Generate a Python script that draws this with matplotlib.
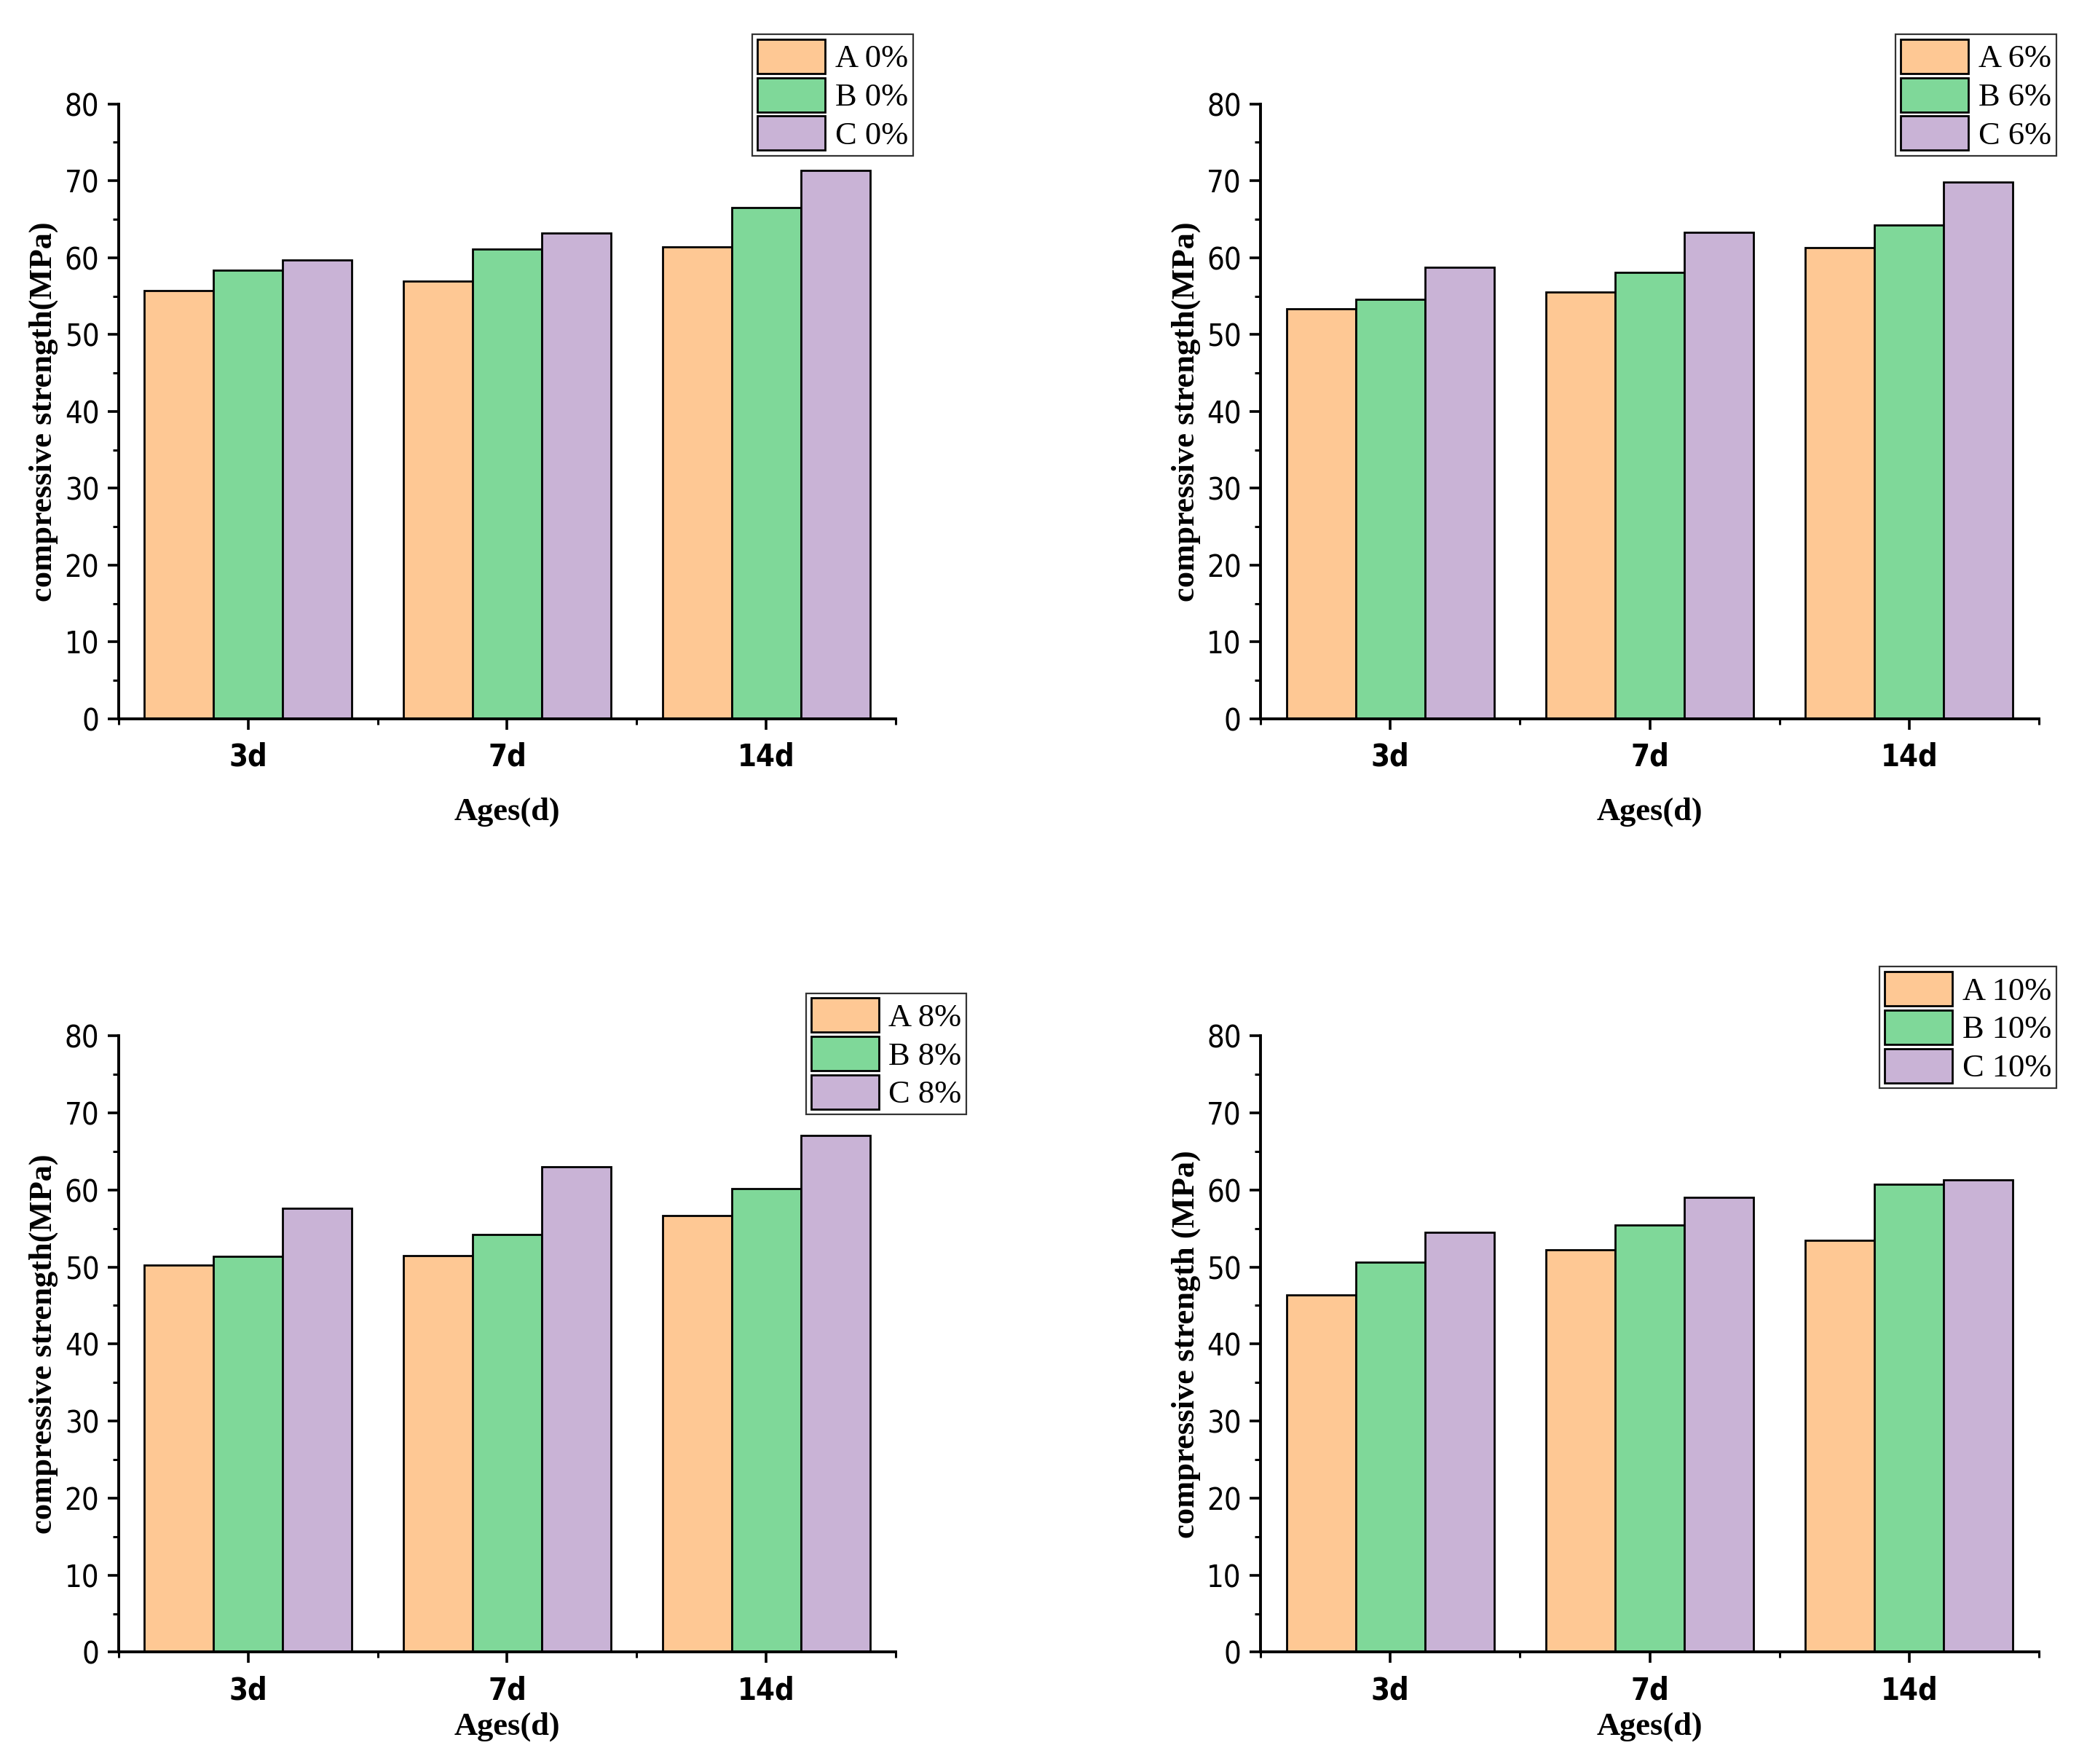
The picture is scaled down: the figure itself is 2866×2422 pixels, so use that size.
import matplotlib
matplotlib.use("Agg")
import matplotlib.pyplot as plt
from matplotlib import font_manager
import numpy as np

ages = ["3d", "7d", "14d"]
mixes = ["A", "B", "C"]

# compressive strength (MPa), rows = A, B, C ; cols = 3d, 7d, 14d
strength_0 = [[55.7, 56.9, 61.4],
              [58.4, 61.1, 66.5],
              [59.7, 63.2, 71.3]]
strength_6 = [[53.3, 55.5, 61.3],
              [54.6, 58.1, 64.2],
              [58.7, 63.3, 69.8]]
strength_8 = [[50.2, 51.5, 56.7],
              [51.4, 54.2, 60.2],
              [57.6, 63.0, 67.1]]
strength_10 = [[46.4, 52.2, 53.5],
               [50.6, 55.4, 60.7],
               [54.5, 59.0, 61.3]]

dosages = ["0%", "6%", "8%", "10%"]
colors = ["#FEC894", "#7FD899", "#C9B3D6"]

names = {f.name for f in font_manager.fontManager.ttflist}
tick_font = "Liberation Sans Narrow" if "Liberation Sans Narrow" in names else "DejaVu Sans"
serif = "Liberation Serif"

fig = plt.figure(figsize=(14.33, 12.11), dpi=200)

# axes boxes in figure fraction: left, bottom, width, height
boxes = [(0.0568, 0.5925, 0.3724, 0.3486),
         (0.6040, 0.5925, 0.3730, 0.3486),
         (0.0568, 0.0634, 0.3724, 0.3494),
         (0.6040, 0.0634, 0.3730, 0.3494)]
legend_anchor = [(1.022, 1.113), (1.022, 1.113), (1.091, 1.069), (1.022, 1.112)]
ylabels = ["compressive strength(MPa)"] * 3 + ["compressive strength (MPa)"]
xlabelpads = [12, 12, 3, 3]

data = [strength_0, strength_6, strength_8, strength_10]
x = np.arange(1, len(ages) + 1)
w = 0.8 / 3

for k, vals in enumerate(data):
    ax = fig.add_axes(boxes[k])
    for i, m in enumerate(mixes):
        ax.bar(x + (i - 1) * w, vals[i], width=w, color=colors[i],
               edgecolor="black", linewidth=1.0, label=f"{m} {dosages[k]}")
    ax.set_xlim(0.5, 3.5)
    ax.set_ylim(0, 80)
    ax.set_yticks(np.arange(0, 81, 10))
    ax.set_yticks(np.arange(0, 81, 5), minor=True)
    ax.set_xticks(x)
    ax.set_xticks([0.5, 1.5, 2.5, 3.5], minor=True)
    ax.set_xticklabels(ages)
    for s in ["top", "right"]:
        ax.spines[s].set_visible(False)
    for s in ["left", "bottom"]:
        ax.spines[s].set_linewidth(1.4)
    ax.tick_params(which="major", length=5.5, width=1.3, direction="out", pad=4)
    ax.tick_params(which="minor", length=3, width=1.1, direction="out")
    ax.tick_params(axis="x", which="major", pad=6)
    for lab in ax.get_yticklabels() + ax.get_xticklabels():
        lab.set_fontfamily(tick_font)
        lab.set_fontstretch("condensed")
        lab.set_fontsize(15)
    for lab in ax.get_xticklabels():
        lab.set_fontweight("bold")
    ax.set_ylabel(ylabels[k], fontfamily=serif, fontweight="bold", fontsize=16, labelpad=3)
    ax.set_xlabel("Ages(d)", fontfamily=serif, fontweight="bold", fontsize=16, labelpad=xlabelpads[k])
    leg = ax.legend(loc="upper right", bbox_to_anchor=legend_anchor[k], borderaxespad=0,
                    frameon=True, fancybox=False, edgecolor="black",
                    prop={"family": serif, "size": 16}, handlelength=2.1, handleheight=1.25,
                    labelspacing=0.12, borderpad=0.15, handletextpad=0.3)
    leg.get_frame().set_linewidth(0.8)

fig.savefig("out.png", dpi=200, facecolor="white")
